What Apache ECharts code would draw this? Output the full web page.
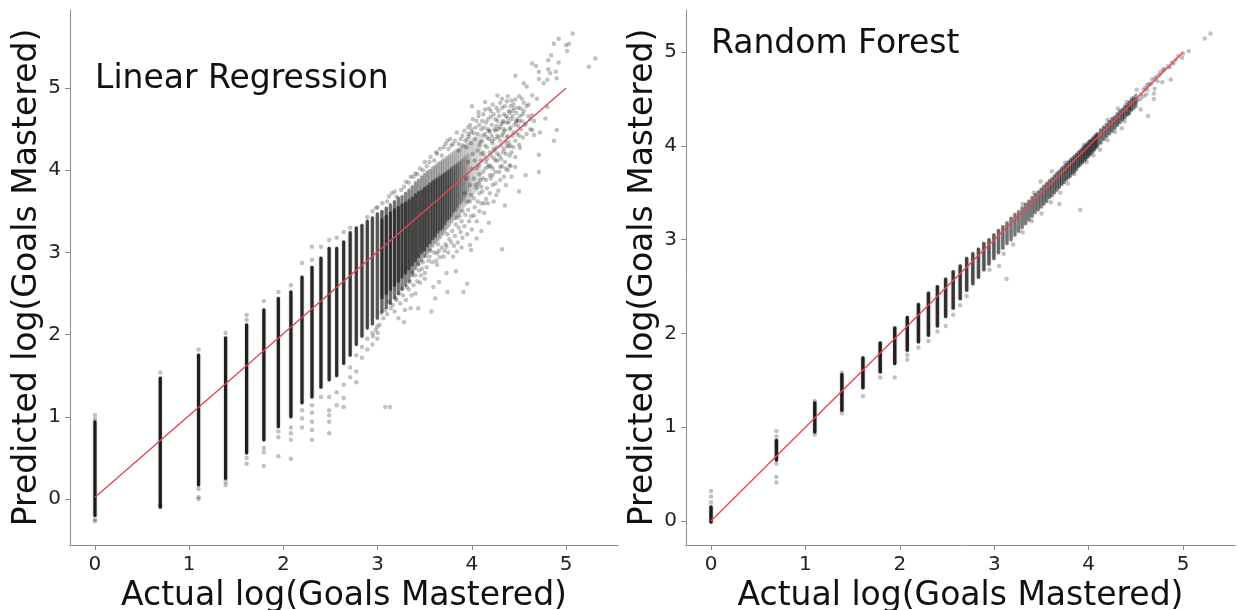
<!DOCTYPE html>
<html><head><meta charset="utf-8">
<style>html,body{margin:0;padding:0;background:#fff}#c{width:1238px;height:610px}</style>
<script src="https://cdn.jsdelivr.net/npm/echarts@6/dist/echarts.min.js"></script>
</head><body><div id="c"></div>
<script>
const tickValues=[0,1,2,3,4,5];
const yName='Predicted log(Goals Mastered)', xName='Actual log(Goals Mastered)';
const lineEnds=[[0,0.02],[5,5]];
const rfLineEnds=[[0,0],[5,5]];

const lrLevels=[0,0.693,1.099,1.386,1.609,1.792,1.946,2.079,2.197,2.303,2.398,2.485,2.565,2.639,2.708,2.773,2.833,2.89,2.944,2.996,3.045,3.091,3.135,3.178,3.219,3.258,3.296,3.332,3.367,3.401,3.434,3.466,3.497,3.526,3.555,3.584,3.611,3.638,3.664,3.689,3.714,3.738,3.761,3.784,3.807,3.829,3.85,3.871,3.892,3.912,3.932,3.951,3.97,3.989,4.007,4.025,4.043,4.06,4.078,4.094];
const lrLows=[-0.2,-0.1,0.17,0.25,0.56,0.72,0.88,1.0,1.17,1.24,1.36,1.45,1.5,1.65,1.75,1.88,1.98,2.08,2.13,2.2,2.28,2.33,2.38,2.45,2.5,2.55,2.6,2.65,2.72,2.8,2.85,2.9,2.95,3.0,3.03,3.08,3.12,3.15,3.18,3.22,3.25,3.3,3.33,3.37,3.4,3.42,3.45,3.48,3.52,3.55,3.58,3.6,3.63,3.66,3.7,3.72,3.75,3.78,3.8,3.85];
const lrHighs=[0.94,1.47,1.75,1.96,2.12,2.3,2.44,2.52,2.7,2.82,2.93,3.05,3.05,3.13,3.24,3.3,3.33,3.38,3.42,3.47,3.5,3.54,3.58,3.62,3.66,3.68,3.72,3.76,3.8,3.85,3.88,3.92,3.95,3.98,4.0,4.03,4.05,4.08,4.1,4.12,4.14,4.16,4.18,4.2,4.22,4.24,4.25,4.27,4.28,4.3,4.31,4.33,4.34,4.36,4.37,4.38,4.4,4.41,4.42,4.44];
const lrDensity=[.8,.8,.8,.8,.8,.8,.78,.78,.76,.76,.75,.72,.72,.7,.68,.65,.62,.6,.56,.52,.48,.45,.43,.42,.4,.38,.36,.34,.32,.3,.28,.27,.26,.25,.24,.23,.22,.21,.2,.2,.19,.18,.17,.16,.15,.14,.13,.12,.11,.1,.09,.08,.08,.07,.07,.06,.06,.05,.05,.04];
const lrCoreLevels=[3.045,3.091,3.135,3.178,3.219,3.258,3.296,3.332,3.367,3.401,3.434,3.466,3.497,3.526,3.555,3.584,3.611,3.638,3.664,3.689,3.714,3.738,3.761,3.784,3.807,3.829,3.85,3.871,3.892,3.912,3.932,3.951,3.97];
const lrCoreLows=[2.45,2.5,2.55,2.6,2.65,2.7,2.75,2.8,2.85,2.9,2.95,3.0,3.03,3.08,3.12,3.17,3.2,3.25,3.28,3.3,3.35,3.4,3.42,3.45,3.5,3.52,3.56,3.6,3.62,3.65,3.68,3.72,3.75];
const lrCoreHighs=[3.4,3.44,3.48,3.52,3.55,3.58,3.6,3.63,3.66,3.7,3.73,3.75,3.78,3.8,3.83,3.86,3.88,3.9,3.92,3.94,3.96,3.98,4.0,4.02,4.04,4.06,4.08,4.1,4.12,4.14,4.16,4.18,4.2];
const lrCoreDensity=[.4,.4,.4,.4,.4,.4,.4,.38,.38,.38,.36,.36,.36,.34,.34,.34,.32,.32,.3,.3,.28,.27,.25,.24,.22,.2,.18,.16,.14,.12,.1,.08,.06];
const lrScatter=[[0,-0.25],[0,-0.27],[0,1.02],[0,0.97],[0.693,1.54],[0.693,-0.08],[1.099,1.82],[1.099,0.02],[1.099,0],[1.099,0.12],[1.386,2.02],[1.386,0.21],[1.386,0.17],[1.609,2.24],[1.609,2.18],[1.609,0.5],[1.609,0.43],[1.792,2.41],[1.792,0.62],[1.792,0.57],[1.792,0.4],[1.946,2.52],[1.946,0.82],[1.946,0.75],[1.946,0.52],[2.079,2.6],[2.079,0.87],[2.079,0.8],[2.079,0.72],[2.079,0.49],[2.197,2.87],[2.197,1.08],[2.197,0.98],[2.197,0.87],[2.303,3.07],[2.303,2.91],[2.303,1.14],[2.303,1.05],[2.303,0.94],[2.303,0.84],[2.303,0.72],[2.398,3.07],[2.398,1.24],[2.485,3.15],[2.485,1.24],[2.485,1.08],[2.485,1.02],[2.485,0.94],[2.485,0.8],[2.565,3.18],[2.565,1.14],[2.565,1.3],[2.639,3.25],[2.639,1.39],[2.639,1.23],[2.639,1.12],[2.708,3.3],[2.708,1.6],[2.708,1.48],[2.773,1.75],[2.773,1.55],[2.773,1.42],[2.833,1.85],[2.833,1.72],[2.89,1.95],[2.89,1.82],[2.89,3.43],[2.944,2.02],[2.944,1.88],[2.944,3.5],[2.996,2.1],[2.996,1.95],[3.08,1.12],[3.13,1.12],
[5.07,5.665],[4.92,5.6],[4.87,5.54],[5.03,5.54],[5,5.52],[5.01,5.45],[5.31,5.36],[5.24,5.26],[4.84,5.4],[4.81,5.34],[4.92,5.31],[4.64,5.3],[4.68,5.27],[4.71,5.2],[4.81,5.23],[4.89,5.2],[4.83,5.18],[4.46,5.15],[4.9,5.12],[4.71,5.11],[4.8,5.1],[4.76,5.06],[4.55,5.06],[4.58,5.02],[4.64,4.91],[4.69,4.87],[4.53,4.87],[4.27,4.91],[4.32,4.87],[4.14,4.83],[4,4.78],[4.07,4.71],[4.8,4.77],[4.78,4.63],[4.64,4.67],[4.57,4.57],[4.64,4.49],[4.66,4.43],[4.72,4.46],[4.9,4.49],[4.87,4.36],[4.5,4.31],[4.51,4.27],[4.39,4.29],[4.71,4.19],[4.71,3.98],[4.57,3.94],[4.46,4.04],[4.41,4.05],[4.34,3.92],[4.5,3.74],[4.35,3.57],[4.25,3.84],[4.23,3.62],[4.18,3.36],[4.32,3.04],[4.1,3.26],[4.05,3.17],[3.98,3.09],[3.89,3.06],[3.84,3.01],[3.73,3.07],[3.63,2.99],[3.83,2.77],[3.73,2.75],[3.63,2.85],[3.5,2.68],[3.95,2.62],[3.91,2.52],[3.74,2.52],[3.65,2.64],[3.59,2.58],[3.61,2.44],[3.43,2.32],[3.57,2.28],[3.29,2.3],[3.4,2.5],[3.45,2.63],[3.99,3.03],
[3.0,3.55],[3.1,3.62],[3.15,3.72],[3.2,3.68],[3.28,3.8],[3.33,3.85],[3.38,3.92],[3.42,3.95],[3.48,4.0],[3.52,4.05],[3.55,4.1],[3.6,4.12],[3.63,4.2],[3.68,4.18],[3.72,4.32],[3.75,4.26],[3.78,4.3],[3.82,4.36],[3.86,4.32],[3.9,4.42],[3.95,4.38],[3.98,4.55],[4.02,4.45],[4.05,4.6],[4.1,4.5],[4.12,4.68],[4.15,4.58],[4.18,4.75],[4.2,4.65],[4.22,4.8],[4.25,4.62],[4.28,4.72],[4.3,4.82],[4.33,4.6],[4.35,4.78],[4.38,4.9],[4.4,4.7],[4.42,4.85],[4.45,4.75],[4.48,4.62],[4.5,4.9],[4.52,4.75],
[4.12,4.42],[4.14,4.3],[4.15,4.1],[4.17,4.5],[4.18,4.38],[4.19,4.22],[4.2,4.05],[4.21,4.55],[4.22,4.33],[4.23,4.15],[4.25,4.48],[4.26,4.28],[4.27,4.6],[4.28,4.4],[4.29,4.18],[4.3,4.52],[4.31,4.3],[4.33,4.45],[4.34,4.68],[4.35,4.35],[4.36,4.2],[4.37,4.58],[4.38,4.42],[4.39,4.72],[4.4,4.5],[4.41,4.3],[4.42,4.62],[4.43,4.42],[4.44,4.8],[4.45,4.55],[4.47,4.7],[4.48,4.45],[4.5,4.6],[4.52,4.5],[4.54,4.68],[4.55,4.82],[4.56,4.55],[4.6,4.8],[4.62,4.62],[4.05,4.02],[4.08,3.95],[4.1,4.2],[4.1,3.8],[4.12,3.9],[4.14,4.02],[4.16,3.78],[4.2,3.9],[4.25,3.98],[4.28,3.75],[4.32,4.05],[4.38,4.0],
[3.62,2.9],[3.65,3.02],[3.7,2.95],[3.72,3.1],[3.75,3.0],[3.78,3.12],[3.8,2.95],[3.82,3.2],[3.85,3.12],[3.88,3.25],[3.9,3.18],[3.92,3.32],[3.95,3.22],[3.97,3.38],[4.0,3.28],[4.02,3.45],[4.05,3.38],[4.08,3.5],[4.1,3.6],[4.13,3.48],[4.15,3.65],[3.55,2.95],[3.52,2.82],[3.5,2.75],[3.48,2.88],[3.46,2.72],[3.44,2.78],[3.42,2.65],[3.38,2.6],[3.36,2.48],[3.33,2.55],[3.3,2.42],[3.27,2.48],[3.24,2.38],[3.2,2.42],[3.18,2.28],[3.14,2.32],[3.1,2.25],[3.06,2.2],[3.02,2.12],[3.0,2.02],[3.22,2.2],[3.28,2.15],[3.35,2.32],
[3.92,4.48],[3.94,4.28],[3.96,4.52],[3.97,4.41],[3.99,4.33],[4.0,4.5],[4.01,4.62],[4.03,4.38],[4.04,4.52],[4.06,4.44],[4.07,4.66],[4.08,4.55],[4.09,4.34],[4.11,4.6],[4.13,4.52],[4.14,4.74],[4.16,4.4],[4.17,4.62],[4.19,4.47],[4.2,4.72],[4.21,4.36],[4.23,4.68],[4.24,4.5],[4.26,4.76],[4.27,4.42],[4.29,4.66],[4.31,4.56],[4.32,4.76],[4.34,4.5],[4.36,4.66],[4.37,4.84],[4.39,4.58],[4.41,4.78],[4.43,4.66],[4.46,4.86],[4.47,4.58],[4.49,4.76],[4.51,4.66],[4.53,4.6],[4.55,4.72],[4.58,4.78],[4.6,4.66],[4.12,4.22],[4.16,4.14],[4.18,4.06],[4.22,4.02],[4.24,4.24],[4.27,4.12],[4.3,4.04],[4.33,4.22],[4.35,4.1],[4.37,4.3],[4.4,4.18],[4.44,4.28],[4.46,4.16],[4.5,4.42],[4.54,4.4],[4.58,4.44],[4.62,4.5],[4.66,4.6],[3.98,3.62],[3.96,3.52],[3.99,3.44],[4.03,3.55],[4.06,3.62],[4.08,3.72],[4.11,3.74],[4.13,3.6],[4.17,3.6],[4.19,3.72],[4.22,3.82],[4.26,3.7],[4.3,3.88],[4.36,3.82],[4.42,3.92],[3.93,3.46],[3.89,3.38],[3.86,3.3],[3.83,3.34],[3.81,3.08],[3.79,3.26],[3.76,3.16],[3.74,3.22],[3.71,3.02],[3.68,3.06],[3.66,2.94],[3.64,3.1],[3.6,3.0],[3.58,2.88],[3.56,3.02],[3.54,2.9],[3.51,2.96],[3.47,2.8],[3.43,2.86],[3.4,2.72],[3.37,2.76],[3.34,2.64],[3.31,2.58],[3.26,2.56],[3.23,2.5],[3.19,2.44],[3.16,2.36],[3.12,2.4],[3.08,2.3],[3.04,2.26],[2.98,2.06],[2.95,1.98],[3.62,4.22],[3.66,4.26],[3.7,4.28],[3.74,4.36],[3.77,4.38],[3.8,4.32],[3.84,4.46],[3.88,4.38],[3.56,4.16],[3.5,4.1],[3.45,4.02],[3.4,3.96],[3.35,3.92],[3.3,3.86],[3.25,3.76],[3.18,3.74],[3.12,3.68],[3.05,3.6],[2.98,3.54],
[3.94,3.9],[3.96,4.1],[3.98,3.82],[4.0,4.02],[4.01,4.2],[4.02,3.9],[4.03,4.12],[4.04,3.82],[4.06,4.24],[4.07,4.06],[4.08,4.3],[4.09,3.88],[4.1,4.12],[4.11,4.36],[4.12,3.98],[4.13,4.18],[4.14,4.44],[4.15,3.88],[4.16,4.28],[4.17,4.04],[4.18,4.48],[4.19,3.94],[4.2,4.18],[4.21,4.42],[4.22,3.94],[4.23,4.26],[4.24,4.38],[4.25,4.12],[4.26,4.54],[4.27,4.2],[4.28,4.5],[4.29,3.98],[4.3,4.36],[4.31,4.14],[4.32,4.42],[4.33,4.58],[4.34,4.26],[4.35,4.48],[4.36,4.02],[4.37,4.4],[4.38,4.64],[4.39,4.34],[4.4,4.06],[4.41,4.52],[4.42,4.22],[4.43,4.72],[4.44,4.46],[4.46,4.36],[4.47,4.6],[4.49,4.54],[3.92,3.72],[3.9,3.5],[3.87,3.44],[3.84,3.42],[3.95,3.62],[3.99,3.7],[4.02,3.66],[4.05,3.78],[4.07,3.84],[3.9,4.3],[3.93,4.36],[3.96,4.44],[3.99,4.46],[3.86,4.24]];

const rfLevels=[0,0.693,1.099,1.386,1.609,1.792,1.946,2.079,2.197,2.303,2.398,2.485,2.565,2.639,2.708,2.773,2.833,2.89,2.944,2.996,3.045,3.091,3.135,3.178,3.219,3.258,3.296,3.332,3.367,3.401,3.434,3.466,3.497,3.526,3.555,3.584,3.611,3.638,3.664,3.689,3.714,3.738,3.761,3.784,3.807,3.829,3.85,3.871,3.892,3.912,3.932,3.951,3.97,3.989,4.007,4.025,4.043,4.06,4.078,4.094,4.127,4.159,4.19,4.22,4.248,4.277,4.304,4.331,4.357,4.382,4.407,4.431,4.454,4.477,4.5];
const rfLows=[-0.01,0.65,0.95,1.18,1.42,1.59,1.68,1.82,1.91,1.98,2.08,2.18,2.27,2.37,2.46,2.53,2.6,2.68,2.74,2.8,2.86,2.91,2.96,3.0,3.05,3.09,3.13,3.17,3.21,3.25,3.29,3.32,3.35,3.38,3.41,3.45,3.47,3.5,3.53,3.56,3.59,3.61,3.64,3.66,3.68,3.71,3.73,3.75,3.78,3.8,3.82,3.84,3.86,3.88,3.9,3.92,3.94,3.96,3.98,4.0,4.03,4.07,4.1,4.13,4.16,4.19,4.22,4.25,4.28,4.3,4.33,4.35,4.38,4.4,4.42];
const rfHighs=[0.15,0.86,1.26,1.56,1.74,1.9,2.06,2.17,2.31,2.43,2.5,2.58,2.66,2.72,2.8,2.85,2.9,2.96,3.0,3.05,3.1,3.14,3.18,3.23,3.27,3.3,3.34,3.38,3.41,3.45,3.48,3.51,3.54,3.57,3.6,3.63,3.65,3.68,3.71,3.73,3.76,3.78,3.8,3.83,3.85,3.87,3.89,3.91,3.93,3.95,3.97,3.99,4.01,4.03,4.05,4.06,4.08,4.1,4.12,4.13,4.17,4.2,4.23,4.26,4.29,4.31,4.34,4.37,4.39,4.42,4.44,4.47,4.49,4.51,4.54];
const rfDensity=[.8,.8,.8,.8,.8,.8,.78,.78,.76,.74,.72,.7,.68,.66,.62,.58,.56,.54,.52,.5,.46,.44,.42,.4,.4,.38,.38,.38,.38,.38,.38,.38,.38,.38,.38,.38,.38,.38,.38,.38,.38,.38,.38,.38,.38,.38,.38,.38,.38,.38,.38,.38,.38,.38,.38,.38,.38,.38,.38,.38,.4,.4,.4,.4,.4,.4,.4,.4,.4,.4,.36,.36,.34,.32,.3];
const rfScatter=[[0,0.32],[0,0.26],[0,0.2],[0.693,0.96],[0.693,0.9],[0.693,0.61],[0.693,0.47],[0.693,0.41],[1.099,1.28],[1.099,0.92],[1.386,1.58],[1.386,1.15],[1.609,1.33],[1.792,1.53],[1.946,1.53],[2.079,1.77],[2.079,1.72],[2.197,1.85],[2.303,1.92],[2.398,2.02],[2.485,2.08],[2.565,2.2],[2.639,2.3],[2.708,2.4],
[5.29,5.2],[5.23,5.145],[5.06,5.01],[5,4.985],[4.99,4.94],[4.9,4.88],[4.86,4.84],[4.79,4.81],[4.76,4.79],[4.87,4.71],[4.78,4.68],[4.73,4.69],[4.67,4.71],[4.62,4.65],[4.7,4.61],[4.69,4.56],[4.69,4.5],[4.61,4.55],[4.51,4.6],[4.46,4.51],[4.55,4.39],[4.63,4.32],[4.31,4.4],[4.35,4.19],[3.91,3.32],[3.69,3.38],[3.13,2.58],[3.49,3.62],[3.61,3.73],
[4.55,4.55],[4.58,4.6],[4.6,4.62],[4.64,4.66],[4.66,4.66],[4.7,4.72],[4.72,4.74],[4.75,4.76],[4.8,4.82],[4.84,4.85],[4.88,4.89],[4.92,4.92],[4.95,4.96],[4.52,4.49],[4.55,4.5],[4.58,4.53],[4.62,4.6],[4.5,4.46],[4.44,4.4],[4.42,4.34],[4.38,4.26],[4.28,4.15],[4.2,4.06],[4.12,3.96],[4.05,3.9],[3.98,3.83],[3.85,3.7],[3.78,3.6],[3.7,3.5],[3.6,3.4],[3.5,3.28],[3.4,3.2],[3.3,3.08],[3.2,2.95],[3.1,2.85],[2.95,2.68],[3.3,3.38],[3.42,3.5],[3.75,3.82],[3.95,4.01],[4.2,4.28],[4.4,4.47],[3.05,2.72]];

const band=(levels,lows,highs,density)=>levels.map((x,i)=>[x,lows[i],highs[i],density[i]]);
const rangeSeries=(data,idx,width)=>({type:'custom',xAxisIndex:idx,yAxisIndex:idx,silent:true,data,encode:{x:0,y:[1,2]},z:2,
  renderItem:(p,api)=>{const a=api.coord([api.value(0),api.value(1)]),b=api.coord([api.value(0),api.value(2)]);
    return {type:'line',shape:{x1:a[0],y1:a[1],x2:b[0],y2:b[1]},style:{stroke:'#000',lineWidth:width,lineCap:'round',opacity:api.value(3),shadowBlur:1.5,shadowColor:'rgba(0,0,0,0.6)'}};}});
const dots=(data,idx,size)=>({type:'scatter',xAxisIndex:idx,yAxisIndex:idx,silent:true,data,symbolSize:size,z:3,itemStyle:{color:'rgba(0,0,0,0.3)'}});
const fit=(data,idx,color)=>({type:'line',xAxisIndex:idx,yAxisIndex:idx,silent:true,data,symbol:'none',z:5,lineStyle:{color,width:1.4}});
const fontFamily='"DejaVu Sans"';
const xAxis=(i)=>({type:'value',gridIndex:i,min:-0.265,max:5.55,name:xName,nameLocation:'middle',nameGap:33,
  nameTextStyle:{fontSize:33,color:'#111',fontFamily},splitLine:{show:false},
  axisLine:{show:true,onZero:false,lineStyle:{color:'#8a8a8a',width:1}},
  axisTick:{show:true,length:5,customValues:tickValues,lineStyle:{color:'#8a8a8a'}},
  axisLabel:{customValues:tickValues,fontSize:20,color:'#222',fontFamily,margin:10,formatter:v=>String(v)}});
const yAxis=(i,min,max,gap)=>({type:'value',gridIndex:i,min,max,name:yName,nameLocation:'middle',nameGap:gap,
  nameTextStyle:{fontSize:33,color:'#111',fontFamily},splitLine:{show:false},
  axisLine:{show:true,onZero:false,lineStyle:{color:'#8a8a8a',width:1}},
  axisTick:{show:true,length:5,customValues:tickValues,lineStyle:{color:'#8a8a8a'}},
  axisLabel:{customValues:tickValues,fontSize:20,color:'#222',fontFamily,margin:9,formatter:v=>String(v)}});
const chart=echarts.init(document.getElementById('c'),null,{renderer:'canvas'});
chart.setOption({animation:false,backgroundColor:'#fff',
  title:[{text:'Linear Regression',left:90,top:58,textStyle:{fontSize:33,fontWeight:'normal',color:'#111',fontFamily}},
         {text:'Random Forest',left:706,top:23,textStyle:{fontSize:33,fontWeight:'normal',color:'#111',fontFamily}}],
  grid:[{left:70,top:10,width:548,height:535,outerBoundsMode:'none'},{left:686,top:10,width:549,height:535,outerBoundsMode:'none'}],
  xAxis:[xAxis(0),xAxis(1)],
  yAxis:[yAxis(0,-0.56,5.95,24),yAxis(1,-0.256,5.45,22)],
  series:[rangeSeries(band(lrLevels,lrLows,lrHighs,lrDensity),0,3.2),rangeSeries(band(lrCoreLevels,lrCoreLows,lrCoreHighs,lrCoreDensity),0,3.2),dots(lrScatter,0,4.5),fit(lineEnds,0,'#e0464f'),
          rangeSeries(band(rfLevels,rfLows,rfHighs,rfDensity),1,3.4),dots(rfScatter,1,4.5),fit(rfLineEnds,1,'#f04848')]
});
</script></body></html>
